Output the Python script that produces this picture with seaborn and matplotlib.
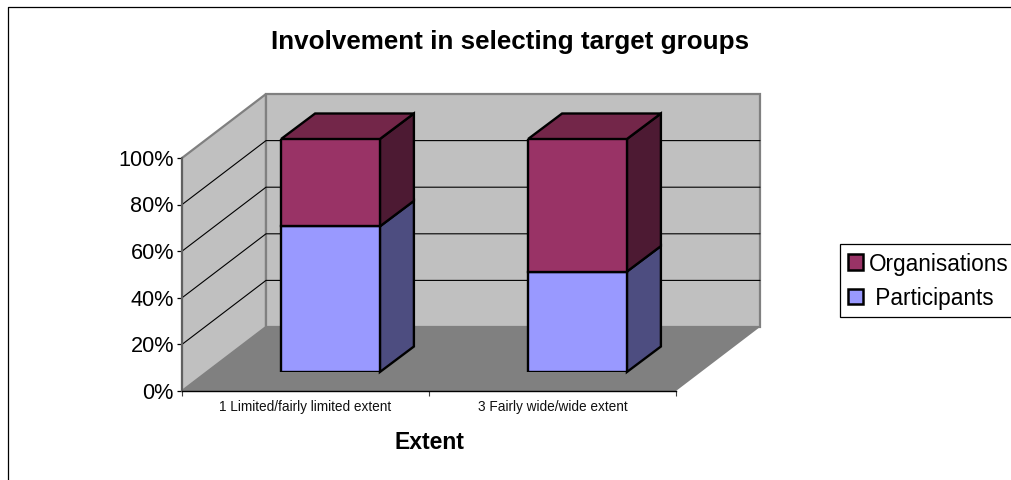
import matplotlib
matplotlib.use("Agg")
import matplotlib.pyplot as plt
from matplotlib.lines import Line2D
from matplotlib.patches import Patch, Polygon
from matplotlib.transforms import ScaledTranslation
import pandas as pd
import seaborn as sns

categories = ["1 Limited/fairly limited extent", "3 Fairly wide/wide extent"]
participants = [62.5, 43.1]
organisations = [37.5, 56.9]
percent_ticks = [0, 20, 40, 60, 80, 100]
title = "Involvement in selecting target groups"
x_title = "Extent"

sns.set_style("white")
plt.rcParams["font.family"] = ["Liberation Sans", "DejaVu Sans"]

W, H = 1011, 481
fig = plt.figure(figsize=(W / 100, H / 100), dpi=100, facecolor="white")


def px_axes(left, right, top, bottom):
    return fig.add_axes([left / W, 1 - bottom / H, (right - left) / W, (bottom - top) / H])


# Front plane of the chart box
ax = px_axes(182, 676, 159, 392)
ax.set_facecolor("none")
ax.set_xlim(-0.5, 1.5)
ax.set_ylim(0, 100)
unit_x = 247.0
unit_y = 2.33
DX, DY = 84 / unit_x, 64 / unit_y
x0, x1 = -0.5, 1.5

wall = "#C0C0C0"
edge = "#808080"
ax.add_patch(Polygon([(x0, 0), (x0, 100), (x0 + DX, 100 + DY), (x0 + DX, DY)],
                     fc=wall, ec=edge, lw=1.6, clip_on=False, zorder=1))
ax.add_patch(Polygon([(x0 + DX, DY), (x0 + DX, 100 + DY), (x1 + DX, 100 + DY), (x1 + DX, DY)],
                     fc=wall, ec=edge, lw=1.6, clip_on=False, zorder=1))
ax.add_patch(Polygon([(x0, 0), (x1, 0), (x1 + DX, DY), (x0 + DX, DY)],
                     fc=edge, ec="none", clip_on=False, zorder=1.5))
for v in percent_ticks[1:-1]:
    ax.plot([x0, x0 + DX, x1 + DX], [v, v + DY, v + DY], color="black", lw=0.8,
            clip_on=False, zorder=2)

ax.set_yticks(percent_ticks, [f"{v}%" for v in percent_ticks])
ax.set_xticks([-0.5, 0.5, 1.5], ["", "", ""])
ax.set_xticks([0, 1], categories, minor=True)
ax.tick_params(axis="y", which="major", left=True, length=3.5, width=0.9, color="black",
               labelsize=15.6, pad=2.3, labelcolor="black")
ax.tick_params(axis="x", which="major", bottom=True, length=3.6, width=0.8, color="#404040")
ax.tick_params(axis="x", which="minor", bottom=False, length=0, labelsize=9.8, pad=6,
               labelcolor="#111111")
nudge = ScaledTranslation(0, 1.3 / 100, fig.dpi_scale_trans)
for lab in ax.get_yticklabels():
    lab.set_transform(lab.get_transform() + nudge)
for s in ("top", "right"):
    ax.spines[s].set_visible(False)
ax.spines["left"].set_color("#606060")
ax.spines["left"].set_linewidth(1.5)
ax.spines["bottom"].set_color("black")
ax.spines["bottom"].set_linewidth(1.0)
ax.set_xlabel(x_title, fontsize=16.6, fontweight="bold", labelpad=12, color="black")
ax.set_ylabel("")

# Plane through the front faces of the bars
ax2 = px_axes(182 + 25, 676 + 25, 159 - 19, 392 - 19)
ax2.set_facecolor("none")
df = pd.DataFrame({"extent": categories, "Participants": participants,
                   "Organisations": organisations})
c_p, c_o = "#9999FF", "#993366"
c_p_side, c_o_side, c_o_top = "#4D4D80", "#4D1A33", "#732649"
bar_w = 0.4
sns.barplot(data=df, x="extent", y="Participants", color=c_p, saturation=1, width=bar_w,
            edgecolor="black", linewidth=1.7, ax=ax2, zorder=4)
sns.barplot(data=df, x="extent", y="Organisations", bottom=participants, color=c_o,
            saturation=1, width=bar_w, edgecolor="black", linewidth=1.7, ax=ax2, zorder=4)
ax2.set_xlim(-0.5, 1.5)
ax2.set_ylim(0, 100)
ax2.set_axis_off()

bx, by = 34 / unit_x, 25.5 / unit_y
for i in range(len(categories)):
    r = i + bar_w / 2
    l = i - bar_w / 2
    p = participants[i]
    total = p + organisations[i]
    kw = dict(ec="black", lw=1.7, joinstyle="miter", clip_on=False, zorder=3)
    ax2.add_patch(Polygon([(r, 0), (r + bx, by), (r + bx, p + by), (r, p)], fc=c_p_side, **kw))
    ax2.add_patch(Polygon([(r, p), (r + bx, p + by), (r + bx, total + by), (r, total)],
                          fc=c_o_side, **kw))
    ax2.add_patch(Polygon([(l, total), (r, total), (r + bx, total + by), (l + bx, total + by)],
                          fc=c_o_top, **kw))

# Chart title and outer frame (the frame runs off the picture on the right and bottom)
fig.text(510.5 / W, 1 - 42 / H, title, ha="center", va="center", fontsize=18.7,
         fontweight="bold", color="black")
fig.add_artist(Line2D([8 / W, 8 / W, 1], [0, 1 - 7.5 / H, 1 - 7.5 / H], color="black", lw=0.9))

# Legend
handles = [Patch(fc=c_o, ec="black", lw=1.8), Patch(fc=c_p, ec="black", lw=1.8)]
leg = fig.legend(handles, ["Organisations", " Participants"],
                 loc="upper left", bbox_to_anchor=(840 / W, 1 - 245 / H),
                 fontsize=16.3, frameon=True, fancybox=False, edgecolor="black",
                 framealpha=1, borderaxespad=0, borderpad=0.34, labelspacing=0.51,
                 handlelength=0.68, handleheight=0.68, handletextpad=0.24, labelcolor="black")
leg.get_frame().set_linewidth(0.9)

fig.savefig("out.png", dpi=100, facecolor="white")
